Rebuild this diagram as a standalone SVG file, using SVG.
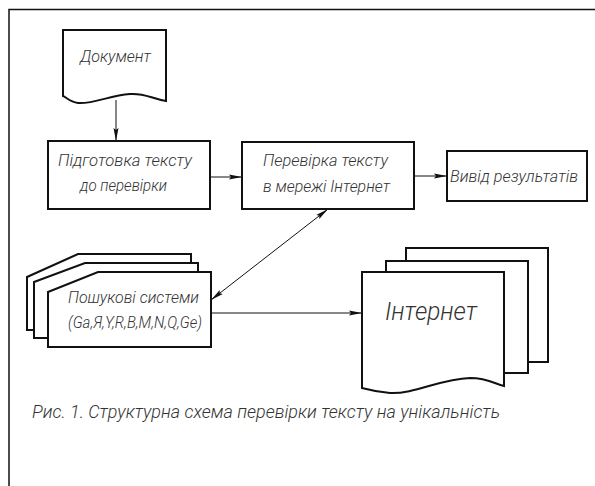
<svg xmlns="http://www.w3.org/2000/svg" width="595" height="486" viewBox="0 0 595 486">
<style>
.s{fill:#fff;stroke:#111;stroke-width:2}
.t{font-family:Roboto,"Liberation Sans",sans-serif;font-weight:300;font-style:italic;fill:#333;font-size:17px}
.c{stroke:#111;stroke-width:1;fill:none}
</style>
<defs>
<marker id="a" viewBox="0 0 13 6" refX="13" refY="3" markerWidth="13" markerHeight="6" markerUnits="userSpaceOnUse" orient="auto-start-reverse">
<path d="M0,0.5 L13,3 L0,5.5 L2,3 z" fill="#111"/>
</marker>
</defs>
<rect width="595" height="486" fill="#fff"/>
<path d="M9,486 V9.5 H595" fill="none" stroke="#111" stroke-width="1.5"/>
<g id="connectors">
<path class="c" d="M116,100 V141" marker-end="url(#a)"/>
<path class="c" d="M210,177 H242" marker-end="url(#a)"/>
<path class="c" d="M414,176 H447" marker-end="url(#a)"/>
<path class="c" d="M328,209 L211,300" marker-start="url(#a)" marker-end="url(#a)"/>
<path class="c" d="M211,313 H362" marker-end="url(#a)"/>
</g>
<g id="document">
<path class="s" d="M63,30 H166 V101 C150,98 145,93 130,94 C110,95 95,104 78,103 C70,102 66,97 63,96 Z"/>
<text class="t" x="80" y="62" textLength="71" lengthAdjust="spacingAndGlyphs">Документ</text>
</g>
<g id="prep">
<rect class="s" x="48" y="141" width="162" height="68"/>
<text class="t" x="58" y="166" textLength="134" lengthAdjust="spacingAndGlyphs">Підготовка тексту</text>
<text class="t" x="80" y="191" textLength="87" lengthAdjust="spacingAndGlyphs">до перевірки</text>
</g>
<g id="check">
<rect class="s" x="242" y="142" width="172" height="67"/>
<text class="t" x="263" y="166" textLength="125" lengthAdjust="spacingAndGlyphs">Перевірка тексту</text>
<text class="t" x="263" y="192" textLength="127" lengthAdjust="spacingAndGlyphs">в мережі Інтернет</text>
</g>
<g id="output">
<rect class="s" x="447" y="151" width="140" height="50"/>
<text class="t" x="450" y="182" textLength="128" lengthAdjust="spacingAndGlyphs">Вивід результатів</text>
</g>
<g id="search">
<path class="s" d="M27,330 V277 L78,254 H191 V330 Z"/>
<path class="s" d="M34,338 V282 L85,263 H198 V338 Z"/>
<path class="s" d="M48,347 V292 L98,272 H211 V347 Z"/>
<text class="t" x="68" y="303" textLength="131" lengthAdjust="spacingAndGlyphs">Пошукові системи</text>
<text class="t" x="68" y="328" textLength="134" lengthAdjust="spacingAndGlyphs">(Ga,Я,Y,R,B,M,N,Q,Ge)</text>
</g>
<g id="internet">
<rect class="s" x="406" y="248" width="142" height="114"/>
<rect class="s" x="386" y="261" width="142" height="112"/>
<path class="s" d="M362,272 H504 V386 C495,384 488,378 470,378 C440,379 415,394 390,393 C375,392 366,389 362,388 Z"/>
<text class="t" x="385" y="320" textLength="92" lengthAdjust="spacingAndGlyphs" style="font-size:25px">Інтернет</text>
</g>
<text class="t" x="32" y="418" textLength="468" lengthAdjust="spacingAndGlyphs" style="font-size:19px">Рис. 1. Структурна схема перевірки тексту на унікальність</text>
</svg>
